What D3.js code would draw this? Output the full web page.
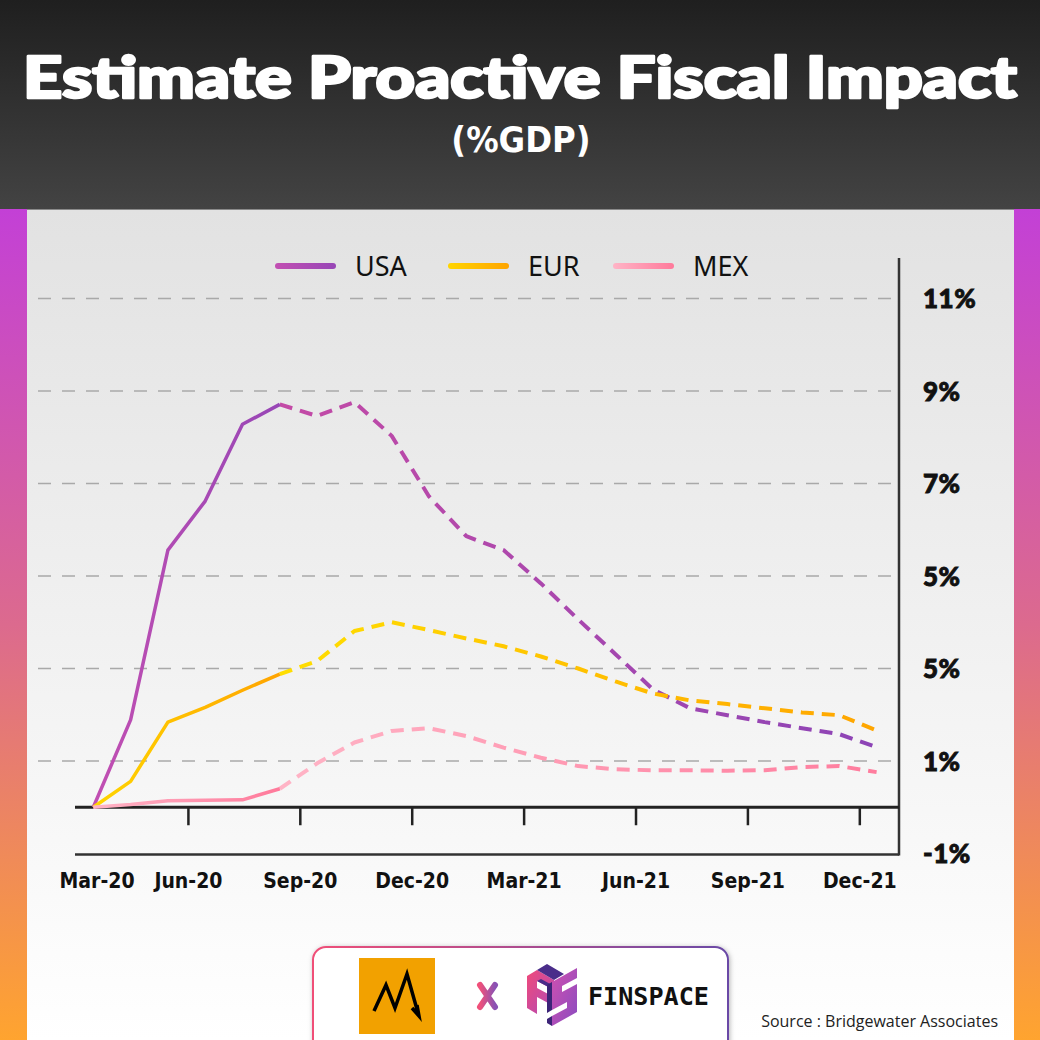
<!DOCTYPE html>
<html><head><meta charset="utf-8">
<script src="https://cdn.jsdelivr.net/npm/d3@7"></script>
<style>html,body{margin:0;padding:0;background:#fff;} svg{display:block;}</style>
</head><body>
<script>
// ---------------- DATA ----------------
const months = ["Mar-20","Apr-20","May-20","Jun-20","Jul-20","Aug-20","Sep-20","Oct-20","Nov-20","Dec-20",
  "Jan-21","Feb-21","Mar-21","Apr-21","May-21","Jun-21","Jul-21","Aug-21","Sep-21","Oct-21","Nov-21","Dec-21"];
const usa = [0, 1.89, 5.56, 6.62, 8.28, 8.71, 8.46, 8.76, 8.03, 6.72, 5.86, 5.56, 4.84, 4.06, 3.31, 2.55, 2.14, 1.99, 1.84, 1.71, 1.58, 1.30];
const eur = [0, 0.56, 1.84, 2.16, 2.53, 2.88, 3.16, 3.81, 4.00, 3.83, 3.65, 3.48, 3.26, 3.00, 2.72, 2.46, 2.31, 2.23, 2.14, 2.05, 1.99, 1.66];
const mex = [0, 0.06, 0.14, 0.15, 0.16, 0.40, 0.95, 1.40, 1.65, 1.71, 1.54, 1.29, 1.07, 0.89, 0.82, 0.80, 0.80, 0.79, 0.80, 0.87, 0.89, 0.76];
const seriesNames = ["USA", "EUR", "MEX"];
const projectionStart = 5; // index after which values are estimates (dashed)
const yTickValues = [11, 9, 7, 5, 3, 1, -1];
const yTickLabels = ["11%", "9%", "7%", "5%", "5%", "1%", "-1%"];
const xTickLabels = ["Mar-20", "Jun-20", "Sep-20", "Dec-20", "Mar-21", "Jun-21", "Sep-21", "Dec-21"];
const xTickAt = [0.1, 2.55, 5.55, 8.55, 11.55, 14.55, 17.55, 20.55]; // month-index positions
const title = "Estimate Proactive Fiscal Impact";
const subtitle = "(%GDP)";
const source = "Source : Bridgewater Associates";

// ---------------- STYLE ----------------
const W = 1040, H = 1040;
const colors = {
  USA: { solid: ["#c24fb2", "#9746b6"], dash: ["#c44aa6", "#8c44b6"] },
  EUR: { solid: ["#ffd500", "#ffa400"], dash: ["#ffde00", "#ffa500"] },
  MEX: { solid: ["#ffb4c6", "#ff7a9b"], dash: ["#ffb4c6", "#ff7d9e"] }
};
const seriesData = { USA: usa, EUR: eur, MEX: mex };

const svg = d3.select("body").append("svg").attr("width", W).attr("height", H);
const defs = svg.append("defs");

function lin(id, c1, c2, x1, y1, x2, y2, units) {
  const g = defs.append("linearGradient").attr("id", id)
    .attr("x1", x1).attr("y1", y1).attr("x2", x2).attr("y2", y2);
  if (units) g.attr("gradientUnits", units);
  g.append("stop").attr("offset", "0%").attr("stop-color", c1);
  g.append("stop").attr("offset", "100%").attr("stop-color", c2);
  return g;
}
lin("hdr", "#1f1f1f", "#434343", 0, 0, 0, 1);
lin("panel", "#e2e2e2", "#ffffff", 0, 0, 0, 1);
const side = defs.append("linearGradient").attr("id", "side").attr("x1", 0).attr("y1", 0).attr("x2", 0).attr("y2", 1);
side.append("stop").attr("offset", "0%").attr("stop-color", "#c340d6");
side.append("stop").attr("offset", "50%").attr("stop-color", "#dc6a8e");
side.append("stop").attr("offset", "100%").attr("stop-color", "#ffa42f");
lin("boxStroke", "#f04f78", "#6a4aa6", 0, 0, 1, 0);
lin("xmark", "#f0507a", "#8a52b4", 0, 0, 1, 0);
lin("fsF", "#f04a7a", "#b04ab8", 0, 0, 1, 1);
lin("fsS", "#d050b0", "#8a4cc0", 0, 0, 1, 1);

const sh = defs.append("filter").attr("id", "shadow").attr("x", "-10%").attr("y", "-30%").attr("width", "120%").attr("height", "160%");
sh.append("feDropShadow").attr("dx", 1).attr("dy", 1).attr("stdDeviation", 2.5).attr("flood-color", "#000").attr("flood-opacity", 0.28);

// ---------------- BACKGROUND ----------------
svg.append("rect").attr("x", 0).attr("y", 209).attr("width", W).attr("height", H - 209).attr("fill", "url(#panel)");
svg.append("rect").attr("x", 0).attr("y", 209).attr("width", 27).attr("height", H - 209).attr("fill", "url(#side)");
svg.append("rect").attr("x", 1014).attr("y", 209).attr("width", 26).attr("height", H - 209).attr("fill", "url(#side)");
svg.append("rect").attr("x", 0).attr("y", 0).attr("width", W).attr("height", 209).attr("fill", "url(#hdr)");
svg.append("line").attr("x1", 27).attr("x2", 1014).attr("y1", 209.5).attr("y2", 209.5).attr("stroke", "#8a8a8a").attr("stroke-width", 1);

svg.append("text").attr("x", 520).attr("y", 98).attr("text-anchor", "middle")
  .attr("font-family", "Lato, 'Open Sans', sans-serif").attr("font-weight", 900).attr("font-size", 58)
  .attr("textLength", 994).attr("lengthAdjust", "spacingAndGlyphs")
  .attr("fill", "#fff").attr("stroke", "#fff").attr("stroke-width", 2.6).attr("stroke-linejoin", "round")
  .text(title);
svg.append("text").attr("x", 521).attr("y", 152).attr("text-anchor", "middle")
  .attr("font-family", "'DejaVu Sans', sans-serif").attr("font-stretch", "condensed").attr("font-weight", 700).attr("font-size", 36)
  .attr("fill", "#fff").text(subtitle);

// ---------------- SCALES ----------------
const x = d3.scaleLinear().domain([0, months.length - 1]).range([93.3, 876.6]);
const y = d3.scaleLinear().domain([-1, 11]).range([853.5, 298.5]);
const axisRight = 899;
const gridLeft = 38;

// gridlines
svg.append("g").selectAll("line").data(yTickValues.filter(v => v > -1)).join("line")
  .attr("x1", gridLeft).attr("x2", axisRight - 5)
  .attr("y1", d => y(d)).attr("y2", d => y(d))
  .attr("stroke", "#a9a9a9").attr("stroke-width", 1.4).attr("stroke-dasharray", "13,11");

// y-axis (right)
const yAxis = d3.axisRight(y).tickValues(yTickValues).tickSize(0).tickPadding(24)
  .tickFormat((d, i) => yTickLabels[i]);
const gy = svg.append("g").attr("transform", `translate(${axisRight},0)`).call(yAxis);
gy.select(".domain").remove();
gy.selectAll("text").attr("font-family", "Lato, 'Open Sans', sans-serif").attr("font-weight", 900)
  .attr("font-size", 26).attr("fill", "#111").attr("stroke", "#111").attr("stroke-width", 0.9)
  .attr("letter-spacing", 0.5).attr("dy", "0.36em");
svg.append("line").attr("x1", axisRight).attr("x2", axisRight).attr("y1", 258).attr("y2", y(-1) + 2)
  .attr("stroke", "#333").attr("stroke-width", 2.5);

// x-axis
svg.append("line").attr("x1", 75).attr("x2", axisRight).attr("y1", y(0)).attr("y2", y(0))
  .attr("stroke", "#222").attr("stroke-width", 3);
svg.append("line").attr("x1", 75).attr("x2", axisRight).attr("y1", y(-1)+1).attr("y2", y(-1)+1)
  .attr("stroke", "#333").attr("stroke-width", 2.5);
svg.append("g").selectAll("line").data(xTickAt.slice(1)).join("line")
  .attr("x1", d => x(d)).attr("x2", d => x(d)).attr("y1", y(0)).attr("y2", y(0) + 18)
  .attr("stroke", "#222").attr("stroke-width", 2.5);
svg.append("g").selectAll("text").data(xTickLabels).join("text")
  .attr("x", (d, i) => x(xTickAt[i])).attr("y", 888).attr("text-anchor", "middle")
  .attr("font-family", "'DejaVu Sans', sans-serif").attr("font-stretch", "condensed").attr("font-weight", 700)
  .attr("font-size", 21).attr("fill", "#111").text(d => d);

// ---------------- LINES ----------------
const line = d3.line().x(d => x(d[0])).y(d => y(d[1]));
const gl = svg.append("g");
seriesNames.forEach(name => {
  const vals = seriesData[name];
  const pts = vals.map((v, i) => [i, v]);
  const solid = pts.slice(0, projectionStart + 1);
  const dash = pts.slice(projectionStart);
  lin("gs" + name, colors[name].solid[0], colors[name].solid[1], x(0), 0, x(projectionStart), 0, "userSpaceOnUse");
  lin("gd" + name, colors[name].dash[0], colors[name].dash[1], x(projectionStart), 0, x(months.length - 1), 0, "userSpaceOnUse");
  gl.append("path").datum(dash).attr("d", line).attr("fill", "none")
    .attr("stroke", `url(#gd${name})`).attr("stroke-width", 4).attr("stroke-dasharray", "13,8")
    .attr("stroke-linejoin", "round");
  gl.append("path").datum(solid).attr("d", line).attr("fill", "none")
    .attr("stroke", `url(#gs${name})`).attr("stroke-width", 3.5).attr("stroke-linejoin", "round");
});

// ---------------- LEGEND ----------------
const legendX = [275, 448, 613];
const lg = svg.append("g");
seriesNames.forEach((name, i) => {
  const x0 = legendX[i];
  lin("lg" + name, colors[name].solid[0], colors[name].solid[1], x0, 0, x0 + 61, 0, "userSpaceOnUse");
  lg.append("line").attr("x1", x0 + 3).attr("x2", x0 + 58).attr("y1", 266).attr("y2", 266)
    .attr("stroke", `url(#lg${name})`).attr("stroke-width", 6).attr("stroke-linecap", "round");
  lg.append("text").attr("x", x0 + 80).attr("y", 276)
    .attr("font-family", "'Noto Sans', 'Open Sans', sans-serif").attr("font-size", 27).attr("fill", "#111").text(name);
});

// ---------------- FOOTER ----------------
svg.append("rect").attr("x", 313).attr("y", 947).attr("width", 415).attr("height", 120).attr("rx", 13)
  .attr("fill", "#fff").attr("stroke", "url(#boxStroke)").attr("stroke-width", 2).attr("filter", "url(#shadow)");
// orange M logo
svg.append("rect").attr("x", 359).attr("y", 958).attr("width", 76).attr("height", 76).attr("fill", "#f2a100");
svg.append("path").attr("d", "M374,1011 L386,985 L395,1008 L407,974 L418,1013 M412,1008 L419,1016 L417,1005")
  .attr("fill", "none").attr("stroke", "#000").attr("stroke-width", 3.5).attr("stroke-linejoin", "miter");
// X
svg.append("path").attr("d", "M480,985 L495,1007 M495,985 L480,1007")
  .attr("stroke", "url(#xmark)").attr("stroke-width", 6).attr("stroke-linecap", "round");
// FS logo (blocky)
const fs = svg.append("g");
fs.append("path").attr("d", "M527,976 L537,970 L554,980 L554,990 L537,981 L537,988 L550,995 L550,1004 L537,997 L537,1014 L527,1008 Z")
  .attr("fill", "url(#fsF)");
fs.append("path").attr("d", "M537,970 L547,964 L564,974 L554,980 Z M537,981 L541,979 L554,986 L554,990 Z").attr("fill", "#4a2d8a");
fs.append("path").attr("d", "M552,982 L577,968 L577,978 L562,986 L562,992 L577,984 L577,1012 L552,1026 L552,1016 L567,1008 L567,1002 L552,1010 Z")
  .attr("fill", "url(#fsS)");
fs.append("path").attr("d", "M547,985 L552,982 L552,1010 L547,1013 Z M547,1019 L552,1016 L552,1026 L547,1023 Z").attr("fill", "#3c2478");
svg.append("text").attr("x", 588).attr("y", 1005)
  .attr("font-family", "'DejaVu Sans Mono', monospace").attr("font-weight", 700).attr("font-size", 25)
  .attr("textLength", 121).attr("lengthAdjust", "spacingAndGlyphs")
  .attr("fill", "#111").text("FINSPACE");
svg.append("text").attr("x", 998).attr("y", 1027).attr("text-anchor", "end")
  .attr("font-family", "'Open Sans', 'Noto Sans', sans-serif").attr("font-size", 16)
  .attr("fill", "#222").text(source);
</script>
</body></html>
